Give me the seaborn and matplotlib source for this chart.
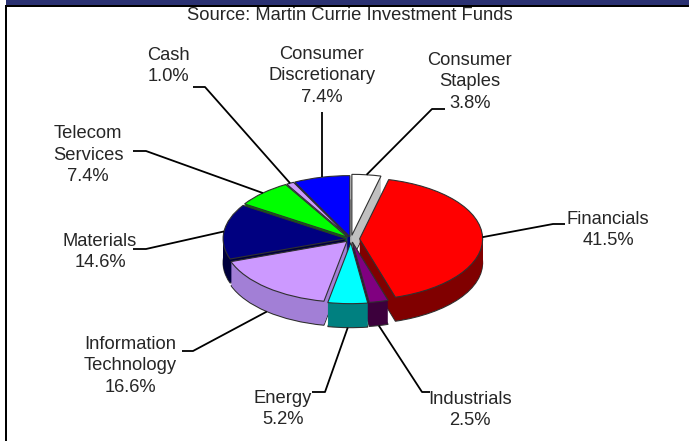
import numpy as np
import matplotlib
matplotlib.use('Agg')
import matplotlib.pyplot as plt
from matplotlib.patches import Rectangle
import seaborn as sns

# ---- data ----
sectors = ['Consumer\nStaples', 'Financials', 'Industrials', 'Energy',
           'Information\nTechnology', 'Materials', 'Telecom\nServices',
           'Cash', 'Consumer\nDiscretionary']
shares = [3.8, 41.5, 2.5, 5.2, 16.6, 14.6, 7.4, 1.0, 7.4]
pct_labels = ['3.8%', '41.5%', '2.5%', '5.2%', '16.6%', '14.6%', '7.4%', '1.0%', '7.4%']
top_colors = ['#ffffff', '#ff0000', '#800080', '#00ffff', '#cc99ff',
              '#000080', '#00ff00', '#cc99ff', '#0000ff']
side_colors = ['#c0c0c0', '#800000', '#3c003c', '#008080', '#a27fd6',
               '#00003c', '#008000', '#a27fd6', '#000080']
explode = [0.06, 0.07, 0.05, 0.06, 0.05, 0.04, 0.04, 0.04, 0.04]
title = 'Source: Martin Currie Investment Funds'

sns.set_style('white')
plt.rcParams['font.family'] = ['Liberation Sans', 'DejaVu Sans']

W, H = 689, 441
fig = plt.figure(figsize=(W / 100, H / 100), dpi=100)

# pie geometry (pixels)
cx, cy, rx, ry, depth = 351, 239, 123, 61, 24

ax = fig.add_axes([0, 0, 1, 1])
# side layers
for k in range(depth, 0, -1):
    lw = 0.8 if k == depth else 0
    ax.pie(shares, explode=explode, colors=side_colors, startangle=90,
           counterclock=False, center=(0, -k / ry), radius=1,
           wedgeprops=dict(linewidth=lw, edgecolor='#303030'))
# top faces
ax.pie(shares, explode=explode, colors=top_colors, startangle=90,
       counterclock=False, center=(0, 0), radius=1,
       wedgeprops=dict(linewidth=0.8, edgecolor='#303030'))
ax.set_aspect('auto')
ax.set_xlim(-cx / rx, (W - cx) / rx)
ax.set_ylim((cy - H) / ry, cy / ry)
ax.axis('off')

# overlay in pixel coordinates
ov = fig.add_axes([0, 0, 1, 1])
ov.set_xlim(0, W)
ov.set_ylim(H, 0)
ov.axis('off')
ov.patch.set_alpha(0)

ov.add_patch(Rectangle((6, 0), W - 6, 5.5, color='#2a3172', lw=0))
ov.add_patch(Rectangle((5, 5), W - 5, 2, color='black', lw=0))
ov.add_patch(Rectangle((5, 5), 2, H - 5, color='black', lw=0))

ov.text(349.5, 15, title, ha='center', va='center', fontsize=13.2)

# leader-line anchor on the pie edge from each slice's mid angle
theta = 90 - np.cumsum([0] + shares[:-1]) * 3.6 - np.array(shares) * 1.8
t = np.deg2rad(theta)
ex = np.array(explode)
px = cx + rx * (1 + ex) * np.cos(t)
py = cy - ry * (1 + ex) * np.sin(t) + np.where(np.sin(t) < -0.3, depth, 0)

label_pos = [(470, 82), (608, 230), (470, 410), (283, 409), (130, 366),
             (100, 252), (88, 155), (168, 66), (322, 76)]
elbows = [[(432, 109), (445, 109)], [(553, 224), (565, 224)],
          [(422, 392), (430, 392)], [(325, 392), (312, 392)],
          [(193, 351), (182, 351)], [(146, 249), (133, 249)],
          [(146, 151), (133, 151)], [(205, 87), (193, 87)],
          [(px[8], 112)]]

for i in range(len(shares)):
    x0, y0 = label_pos[i]
    ov.text(x0, y0, sectors[i] + '\n' + pct_labels[i], ha='center',
            va='center', fontsize=13.2, linespacing=1.33)
    pts = [(px[i], py[i])] + elbows[i]
    ov.plot([p[0] for p in pts], [p[1] for p in pts], color='black', lw=1.3,
            solid_capstyle='butt')

fig.savefig('out.png', dpi=100)
